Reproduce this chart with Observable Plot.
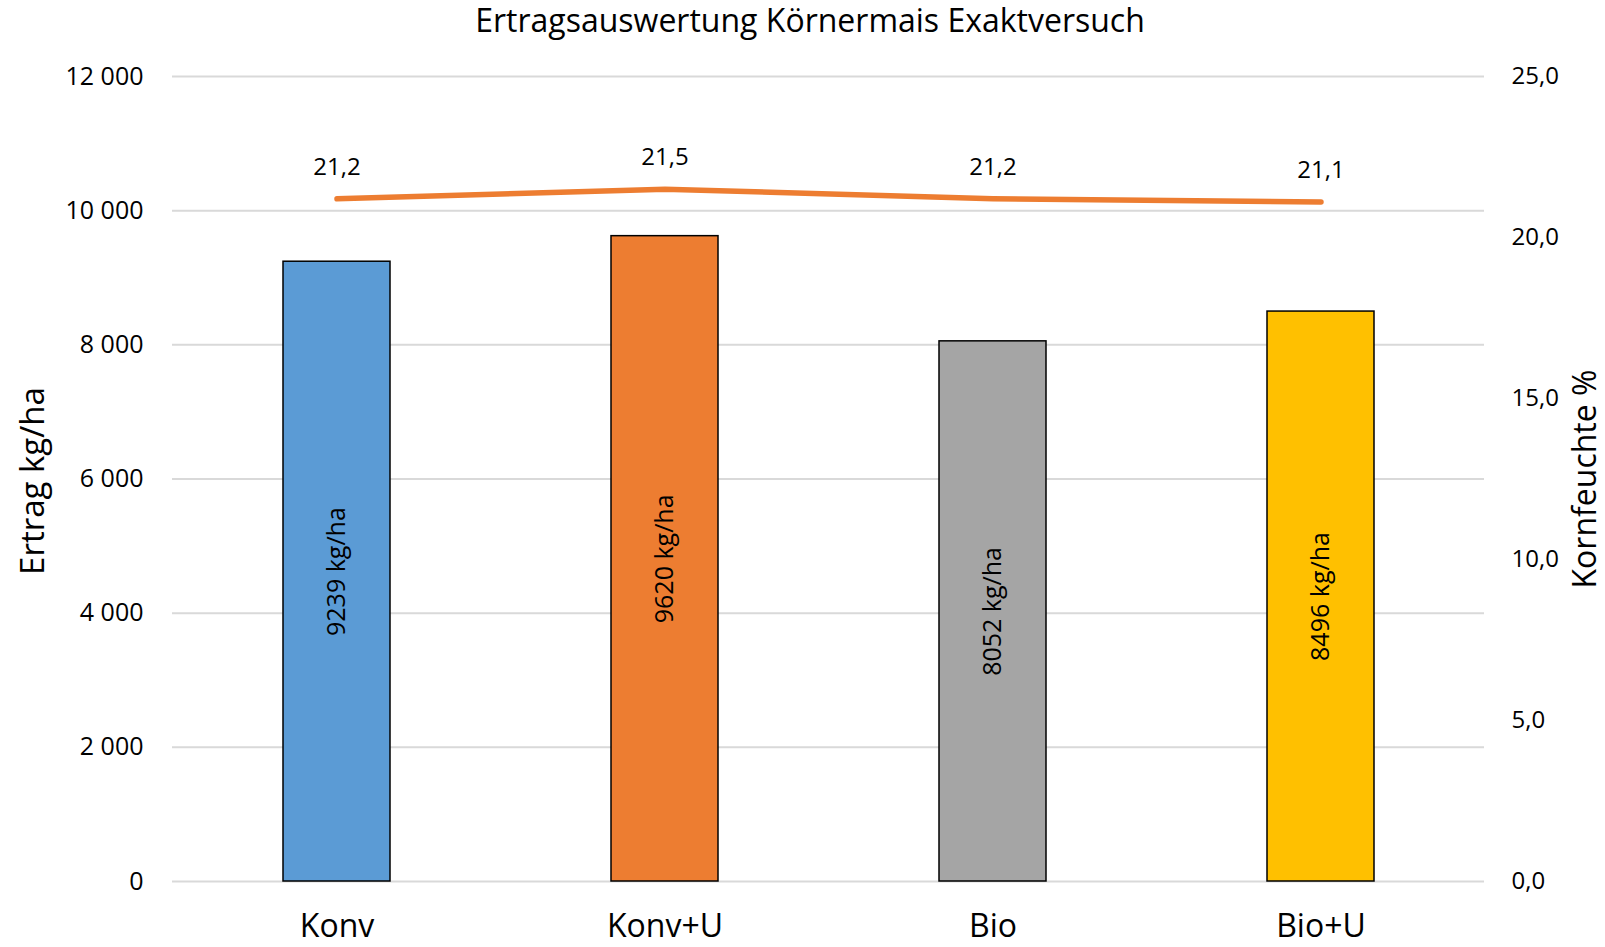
<!DOCTYPE html>
<html>
<head>
<meta charset="utf-8">
<script src="https://cdn.jsdelivr.net/npm/d3@7"></script>
<script src="https://cdn.jsdelivr.net/npm/@observablehq/plot@0.6"></script>
<style>
  body { margin: 0; background: #fff; font-family: "Open Sans", sans-serif; }
  #title { height: 40px; line-height: 39px; font-size: 32px; text-align: center; color: #000; padding-left: 15px; box-sizing: border-box; width: 1605px; }
</style>
</head>
<body>
<div id="title">Ertragsauswertung Körnermais Exaktversuch</div>
<div id="chart"></div>
<script>
// ---- data ----
const categories = ["Konv", "Konv+U", "Bio", "Bio+U"];
const yields = [9239, 9620, 8052, 8496];          // Ertrag kg/ha
const moisture = [21.2, 21.5, 21.2, 21.1];        // Kornfeuchte %
const yieldTicks = [0, 2000, 4000, 6000, 8000, 10000, 12000];
const moistureTicks = [0, 5, 10, 15, 20, 25];

// ---- styles ----
const barColors = ["#5B9BD5", "#ED7D31", "#A5A5A5", "#FFC000"];
const lineColor = "#ED7D31";

const yMax = 12000, rMax = 25;
const k = yMax / rMax; // right-axis to left-axis scale factor

const data = categories.map((c, i) => ({cat: c, yield: yields[i], moisture: moisture[i]}));

const de = d3.formatLocale({decimal: ",", thousands: "\u00a0", grouping: [3], currency: ["", "€"]});
const fmtThousands = de.format(",d");
const fmt1 = de.format(".1f");

const chart = Plot.plot({
  width: 1605,
  height: 907,
  marginTop: 36,
  marginBottom: 66,
  marginLeft: 172,
  marginRight: 121,
  style: {fontFamily: "Open Sans", color: "#000", background: "#fff"},
  x: {domain: categories, paddingInner: 0.675, paddingOuter: 0.3375, align: 0.5},
  y: {domain: [0, yMax]},
  color: {domain: categories, range: barColors},
  marks: [
    Plot.gridY(yieldTicks, {stroke: "#D9D9D9", strokeOpacity: 1, strokeWidth: 2}),
    Plot.barY(data, {x: "cat", y: "yield", fill: "cat", stroke: "#000", strokeWidth: 1.5}),
    Plot.text(data, {x: "cat", y: d => d.yield / 2, text: d => `${d.yield} kg/ha`, rotate: -90, fontSize: 25, fill: "#000"}),
    Plot.line(data, {x: "cat", y: d => d.moisture * k, stroke: lineColor, strokeWidth: 5.5, strokeLinecap: "round"}),
    Plot.text(data, {x: "cat", y: d => d.moisture * k, text: d => fmt1(d.moisture), dy: -32, fontSize: 24, fill: "#000"}),
    Plot.axisX({tickSize: 0, tickPadding: 33, fontSize: 32, label: null}),
    Plot.axisY(yieldTicks, {anchor: "left", tickSize: 0, tickPadding: 29, fontSize: 25, tickFormat: fmtThousands, label: null}),
    Plot.axisY(moistureTicks.map(v => v * k), {anchor: "right", tickSize: 0, tickPadding: 27, fontSize: 24, tickFormat: d => fmt1(d / k), label: null}),
    Plot.text(["Ertrag kg/ha"], {frameAnchor: "left", textAnchor: "middle", dx: -139, dy: 2, rotate: -90, fontSize: 33, fill: "#000"}),
    Plot.text(["Kornfeuchte %"], {frameAnchor: "right", textAnchor: "middle", dx: 101, rotate: -90, fontSize: 32, fill: "#000"})
  ]
});
document.getElementById("chart").appendChild(chart);
</script>
</body>
</html>
